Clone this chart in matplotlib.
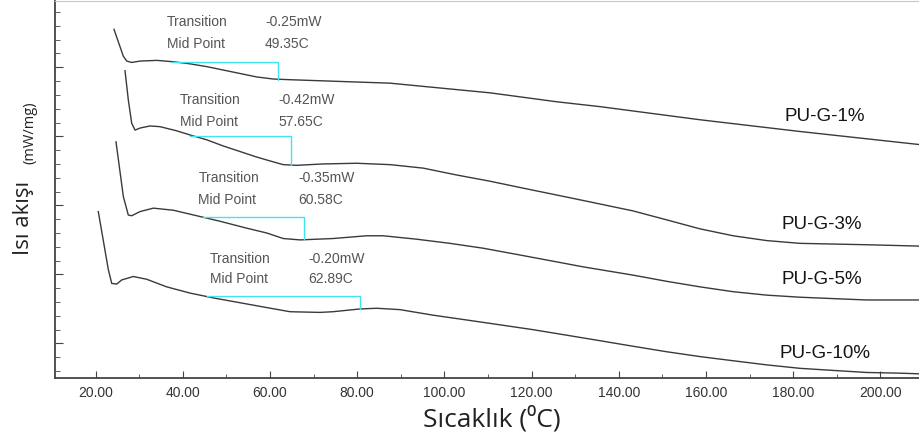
import numpy as np
import matplotlib.pyplot as plt
from matplotlib.ticker import MultipleLocator, FormatStrFormatter

# DSC curves (temperature in C, heat flow in arbitrary stacked units)
t_1 = [24.24, 26.38, 27.16, 28.30, 30.21, 34.04, 37.84, 41.67, 45.50, 49.31, 53.14, 56.97,
       60.78, 64.61, 69.20, 87.55, 110.48, 125.85, 135.71, 158.65, 181.58, 209.1]
q_1 = [4.55, 4.16, 4.09, 4.07, 4.09, 4.10, 4.08, 4.05, 4.01, 3.96, 3.91, 3.86,
       3.83, 3.82, 3.81, 3.77, 3.63, 3.50, 3.43, 3.24, 3.07, 2.88]

t_3 = [26.77, 27.52, 28.30, 29.06, 30.21, 32.50, 34.79, 38.62, 41.67, 45.50, 49.31, 53.14,
       56.97, 60.78, 63.07, 66.15, 72.18, 79.91, 87.55, 95.11, 102.84, 110.48, 118.05,
       125.78, 133.44, 143.28, 151.01, 158.65, 166.22, 173.95, 181.58, 196.88, 209.1]
q_3 = [3.95, 3.53, 3.19, 3.09, 3.12, 3.15, 3.14, 3.08, 3.02, 2.95, 2.86, 2.78,
       2.70, 2.63, 2.59, 2.58, 2.60, 2.61, 2.59, 2.54, 2.44, 2.35, 2.25,
       2.15, 2.05, 1.92, 1.79, 1.66, 1.56, 1.49, 1.45, 1.43, 1.41]

t_5 = [24.70, 26.38, 27.52, 28.30, 30.21, 33.26, 37.84, 43.21, 48.56, 54.68, 59.27, 63.07,
       66.90, 74.47, 82.20, 85.94, 93.67, 101.31, 108.88, 116.61, 124.24, 131.81, 143.28,
       151.01, 158.65, 166.22, 173.95, 181.58, 189.15, 196.88, 209.1]
q_5 = [2.92, 2.13, 1.86, 1.85, 1.91, 1.96, 1.93, 1.85, 1.77, 1.67, 1.60, 1.52,
       1.50, 1.52, 1.56, 1.56, 1.51, 1.45, 1.38, 1.29, 1.20, 1.11, 0.99,
       0.90, 0.82, 0.75, 0.70, 0.67, 0.65, 0.63, 0.63]

t_10 = [20.64, 22.94, 23.72, 24.86, 26.01, 28.67, 31.74, 36.33, 41.67, 47.02, 53.14, 59.27,
        64.61, 71.49, 74.47, 80.67, 84.50, 89.84, 97.41, 105.14, 112.78, 120.34, 128.07,
        135.71, 143.28, 151.01, 158.65, 166.22, 173.95, 181.58, 189.15, 196.88, 204.5, 209.1]
q_10 = [1.91, 1.07, 0.87, 0.86, 0.92, 0.97, 0.93, 0.82, 0.73, 0.66, 0.59, 0.52,
        0.46, 0.45, 0.46, 0.50, 0.51, 0.49, 0.41, 0.34, 0.27, 0.20, 0.12,
        0.04, -0.04, -0.12, -0.19, -0.25, -0.31, -0.36, -0.39, -0.42, -0.43, -0.44]

curves = [(t_1, q_1), (t_3, q_3), (t_5, q_5), (t_10, q_10)]

# sample names and their label positions
names = ["PU-G-1%", "PU-G-3%", "PU-G-5%", "PU-G-10%"]
name_t = [187.3, 186.6, 186.6, 187.3]
name_q = [3.29, 1.72, 0.92, -0.15]

# glass transition step markers (cyan)
step_start = [37.48, 41.67, 44.72, 45.50]
step_end = [61.93, 64.84, 67.82, 80.67]
step_top = [4.08, 3.01, 1.83, 0.69]
step_bottom = [3.82, 2.59, 1.51, 0.50]

# annotation text
transition = ["-0.25mW", "-0.42mW", "-0.35mW", "-0.20mW"]
midpoint = ["49.35C", "57.65C", "60.58C", "62.89C"]
note_t = [36.33, 39.38, 43.58, 46.26]
value_t = [58.88, 61.93, 66.51, 68.81]
note_q1 = [4.65, 3.53, 2.39, 1.23]
note_q2 = [4.34, 3.21, 2.08, 0.93]

fig = plt.figure(figsize=(9.2, 4.41), dpi=100)
ax = fig.add_axes([55 / 920, 63 / 441, 865 / 920, 377 / 441])

for t, q in curves:
    ax.plot(t, q, color="#3a3a3a", lw=1.0)

for i in range(4):
    ax.plot([step_start[i], step_end[i], step_end[i]],
             [step_top[i], step_top[i], step_bottom[i]], color="#3fe6ee", lw=1.0)
    kw = dict(fontsize=10, color="#555555", family="Liberation Sans", va="center")
    ax.text(note_t[i], note_q1[i], "Transition", **kw)
    ax.text(note_t[i], note_q2[i], "Mid Point", **kw)
    ax.text(value_t[i], note_q1[i], transition[i], **kw)
    ax.text(value_t[i], note_q2[i], midpoint[i], **kw)
    ax.text(name_t[i], name_q[i], names[i], fontsize=13.5, color="#151515",
            family="Liberation Sans", ha="center", va="center")

ax.set_xlim(10.71, 209.1)
ax.set_ylim(-0.5, 4.96)

ax.xaxis.set_major_locator(MultipleLocator(20))
ax.xaxis.set_minor_locator(MultipleLocator(10))
ax.xaxis.set_major_formatter(FormatStrFormatter("%.2f"))
ax.yaxis.set_major_locator(MultipleLocator(1))
ax.yaxis.set_minor_locator(MultipleLocator(0.2))
ax.set_yticklabels([])

ax.tick_params(axis="both", which="both", direction="in", color="#444444")
ax.tick_params(axis="x", which="major", length=5, pad=6, labelsize=10, labelcolor="#333333")
ax.tick_params(axis="x", which="minor", length=3)
ax.tick_params(axis="y", which="major", length=6)
ax.tick_params(axis="y", which="minor", length=3.5)
for lab in ax.get_xticklabels():
    lab.set_family("Liberation Sans")

ax.spines["right"].set_visible(False)
ax.spines["top"].set_color("#c8c8c8")
ax.spines["left"].set_color("#444444")
ax.spines["bottom"].set_color("#444444")
ax.spines["left"].set_linewidth(1.3)
ax.spines["bottom"].set_linewidth(1.3)

fig.text(492 / 920, 1 - 419 / 441, "Sıcaklık (⁰C)", fontsize=19,
         family=["Open Sans", "DejaVu Sans"], ha="center", va="center", color="#222222")
fig.text(24 / 920, 1 - 218 / 441, "Isı akışı", fontsize=16, rotation=90,
         family=["Open Sans", "DejaVu Sans"], ha="center", va="center", color="#222222")
fig.text(30 / 920, 1 - 133 / 441, "(mW/mg)", fontsize=10.5, rotation=90,
         family=["Open Sans", "DejaVu Sans"], ha="center", va="center", color="#222222")

fig.savefig("out.png", dpi=100)
